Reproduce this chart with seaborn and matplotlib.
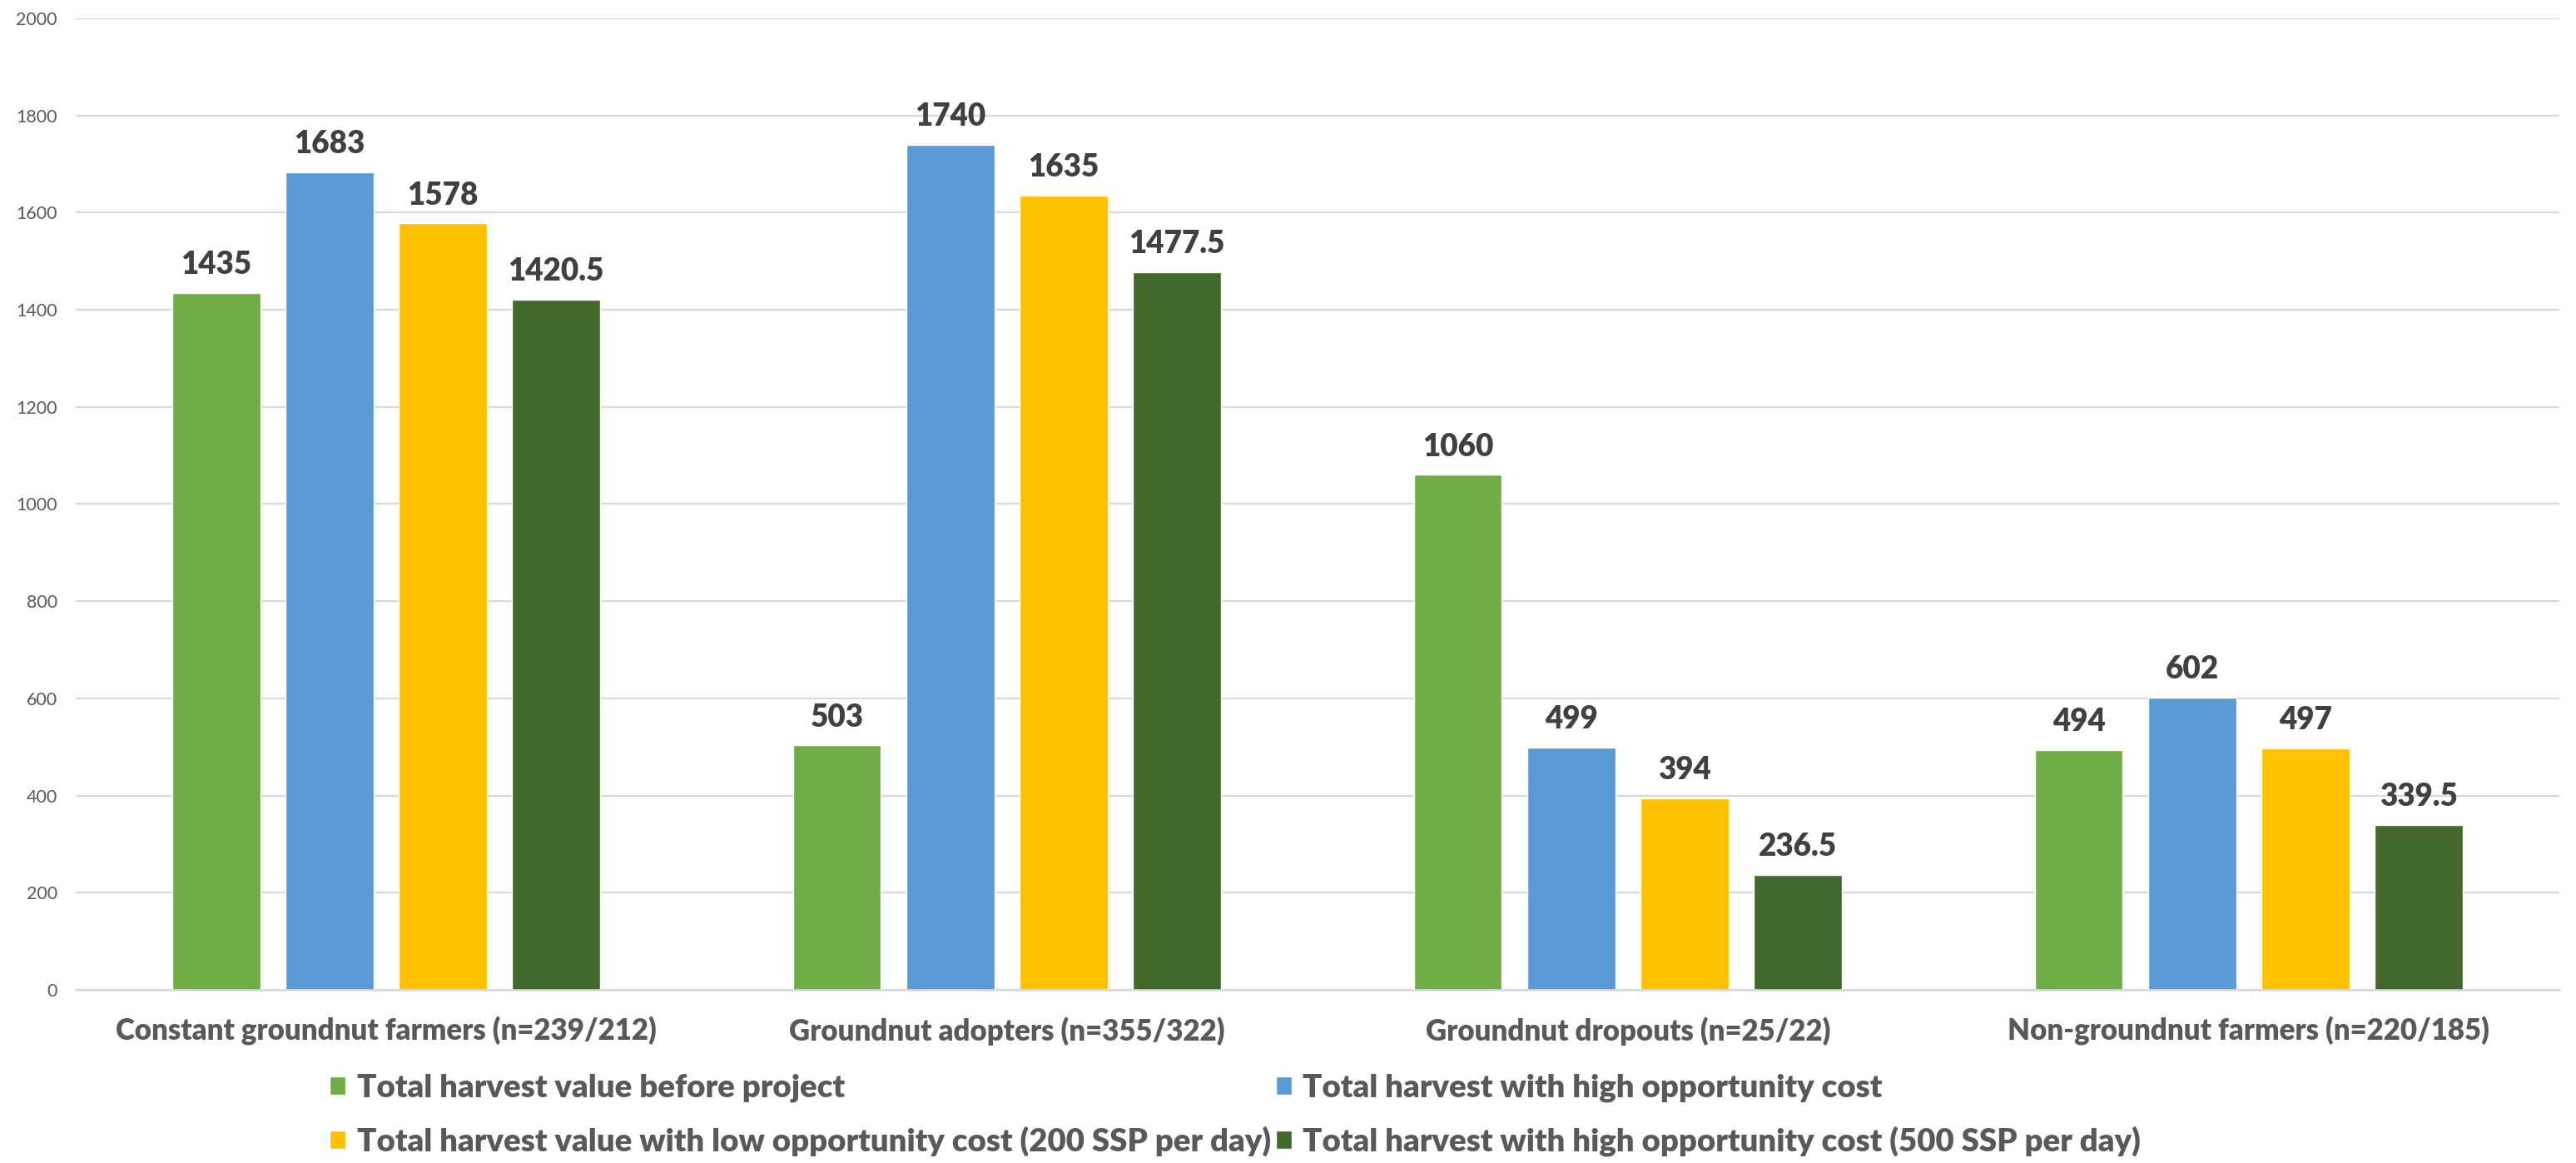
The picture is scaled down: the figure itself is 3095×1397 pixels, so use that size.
import pandas as pd
import matplotlib.pyplot as plt
import seaborn as sns

categories = ["Constant groundnut farmers (n=239/212)", "Groundnut adopters (n=355/322)",
              "Groundnut dropouts (n=25/22)", "Non-groundnut farmers (n=220/185)"]
series = ["Total harvest value before project",
          "Total harvest with high opportunity cost",
          "Total harvest value with low opportunity cost (200 SSP per day)",
          "Total harvest with high opportunity cost (500 SSP per day)"]
before_project = [1435, 503, 1060, 494]
high_cost = [1683, 1740, 499, 602]
low_cost_200 = [1578, 1635, 394, 497]
high_cost_500 = [1420.5, 1477.5, 236.5, 339.5]
colors = ["#70AD47", "#5B9BD5", "#FFC000", "#43682B"]

rows = []
for s, vals in zip(series, [before_project, high_cost, low_cost_200, high_cost_500]):
    for c, v in zip(categories, vals):
        rows.append({"category": c, "series": s, "value": v})
df = pd.DataFrame(rows)

sns.set_style("white")
plt.rcParams["font.family"] = ["Lato", "DejaVu Sans"]

fig = plt.figure(figsize=(30.95, 13.97), dpi=100)
ax = fig.add_axes([0.0294, 0.1489, 0.9641, 0.8354])

sns.barplot(data=df, x="category", y="value", hue="series", palette=colors,
            width=0.73, gap=0.225, saturation=1, ax=ax, legend=True)

# value labels above each bar
for cont in ax.containers:
    ax.bar_label(cont, labels=[f"{v:g}" for v in cont.datavalues], padding=12,
                 fontsize=26.5, fontweight="heavy", color="#404040")

ax.set_ylim(0, 2000)
ax.set_yticks(range(0, 2001, 200))
ax.set_xlim(-0.5, 3.5)
ax.yaxis.grid(True, color="#D9D9D9", linewidth=1.6)
ax.set_axisbelow(True)
for side in ["left", "right", "top"]:
    ax.spines[side].set_visible(False)
ax.spines["bottom"].set_color("#D9D9D9")
ax.spines["bottom"].set_linewidth(1.8)
ax.tick_params(axis="y", length=0, pad=16, labelsize=15.5, labelcolor="#595959")
ax.tick_params(axis="x", length=0, pad=23, labelsize=25, labelcolor="#595959")
for lbl in ax.get_xticklabels():
    lbl.set_fontweight("heavy")
ax.set_xlabel("")
ax.set_ylabel("")

handles, labels = ax.get_legend_handles_labels()
ax.get_legend().remove()
order = [0, 2, 1, 3]
leg = fig.legend([handles[i] for i in order], [labels[i] for i in order], ncol=2,
                 loc="upper left", bbox_to_anchor=(0.128, 0.0766), frameon=False,
                 borderpad=0, borderaxespad=0, handlelength=0.5, handleheight=0.5,
                 handletextpad=0.35, columnspacing=0.15, labelspacing=0.74,
                 prop={"size": 27.6, "weight": "heavy"})
for t in leg.get_texts():
    t.set_color("#595959")

plt.savefig("out.png")
